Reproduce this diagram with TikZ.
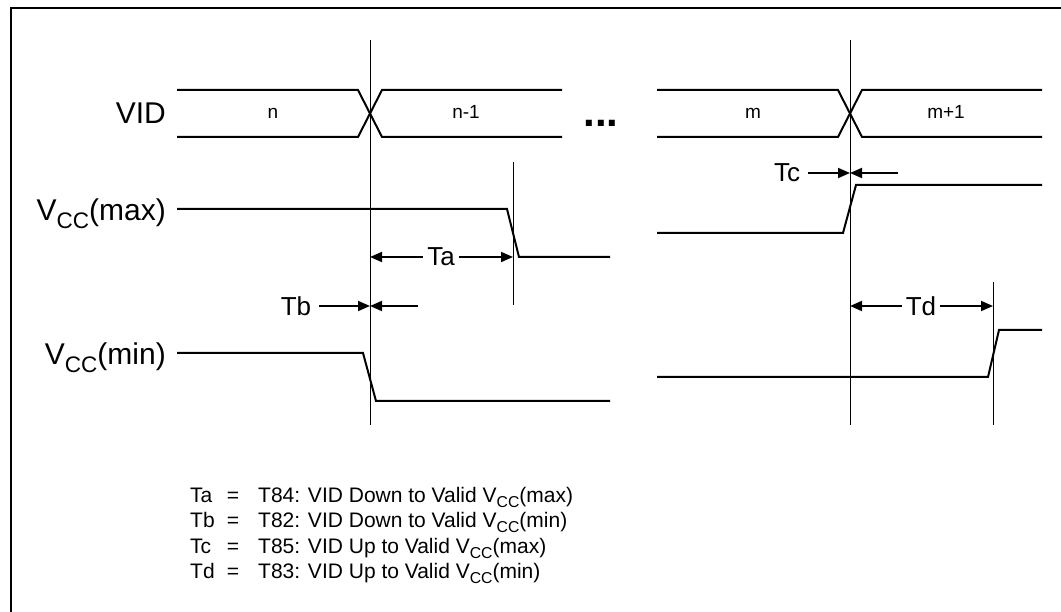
\documentclass[tikz,border=0pt]{standalone}
\usepackage{fontspec}
\setmainfont{Liberation Sans}
\usepackage{graphicx}
\usetikzlibrary{arrows.meta}
\newcommand\lowsub[1]{\raisebox{-0.25em}{\scalebox{0.75}{#1}}}
\begin{document}
\begin{tikzpicture}[x=1pt,y=-1pt,
  sig/.style={line width=2pt, line join=miter},
  guide/.style={line width=0.9pt},
  dimarrow/.style={line width=1.8pt,-{Triangle[length=12pt,width=10pt]}},
  biglbl/.style={font=\fontsize{30}{36}\selectfont, inner sep=0pt, anchor=base east},
  tlbl/.style={font=\fontsize{26}{30}\selectfont, inner sep=0pt},
  buslbl/.style={font=\fontsize{19}{22}\selectfont, inner sep=0pt, anchor=base},
  legend/.style={font=\fontsize{21}{25}\selectfont, inner sep=0pt, anchor=base west},
  legeq/.style={font=\fontsize{21}{25}\selectfont, inner sep=0pt, anchor=base},
]
\useasboundingbox (0,0) rectangle (1061,612);
% frame
\draw[line width=2pt] (1061,8.5) -- (11,8.5) -- (11,612);

% guide lines
\coordinate (g1t) at (370,40);  \coordinate (g1b) at (370,425);
\coordinate (g2t) at (850,40);  \coordinate (g2b) at (850,425);
\coordinate (g3t) at (513,162); \coordinate (g3b) at (513,305);
\coordinate (g4t) at (993,282); \coordinate (g4b) at (993,425);
\draw[guide] (g1t) -- (g1b);
\draw[guide] (g2t) -- (g2b);
\draw[guide] (g3t) -- (g3b);
\draw[guide] (g4t) -- (g4b);

% VID bus
\draw[sig] (177,90) -- (358,90) -- (382,137) -- (562,137);
\draw[sig] (177,137) -- (358,137) -- (382,90) -- (562,90);
\draw[sig] (657,90) -- (838,90) -- (862,137) -- (1042,137);
\draw[sig] (657,137) -- (838,137) -- (862,90) -- (1042,90);

% row labels
\node[biglbl] (vid) at (166,124) {VID};
\node[biglbl] (vmax) at (166,221) {V\lowsub{CC}(max)};
\node[biglbl] (vmin) at (166,365) {V\lowsub{CC}(min)};

% bus labels
\node[buslbl] (bn)  at (273,119) {n};
\node[buslbl] (bn1) at (466,119) {n-1};
\node[buslbl] (bm)  at (753,119) {m};
\node[buslbl] (bm1) at (946,119) {m+1};
\node[font=\fontsize{42}{42}\selectfont\bfseries, inner sep=0pt, anchor=base] (dots) at (601,127) {...};

% Vcc waveforms
\draw[sig] (177,209) -- (507,209) -- (519,257) -- (610,257);
\draw[sig] (177,353) -- (363,353) -- (376,401) -- (610,401);
\draw[sig] (657,233) -- (843,233) -- (856,185) -- (1042,185);
\draw[sig] (657,377) -- (988,377) -- (999,330) -- (1042,330);

% Ta
\node[tlbl, inner xsep=4pt] (ta) at (441,257) {Ta};
\draw[dimarrow] (ta.west) -- (g1t |- ta);
\draw[dimarrow] (ta.east) -- (g3t |- ta);
% Tb
\node[tlbl, inner xsep=8pt] (tb) at (296,306) {Tb};
\coordinate (tbr) at (418,306);
\draw[dimarrow] (tb.east) -- (g1t |- tb);
\draw[dimarrow] (tbr) -- (g1t |- tb);
% Tc
\node[tlbl, inner xsep=8pt] (tc) at (787,173) {Tc};
\coordinate (tcr) at (898,173);
\draw[dimarrow] (tc.east) -- (g2t |- tc);
\draw[dimarrow] (tcr) -- (g2t |- tc);
% Td
\node[tlbl, inner xsep=4pt] (td) at (921,306) {Td};
\draw[dimarrow] (td.west) -- (g2t |- td);
\draw[dimarrow] (td.east) -- (g4t |- td);

% legend
\node[legend] (la) at (190,502) {Ta};
\node[legeq]  (ea) at (233,502) {=};
\node[legend] (da) at (258,502) {T84: VID Down to Valid V\lowsub{CC}(max)};
\node[legend] (lb) at (190,527.5) {Tb};
\node[legeq]  (eb) at (233,527.5) {=};
\node[legend] (db) at (258,527.5) {T82: VID Down to Valid V\lowsub{CC}(min)};
\node[legend] (lc) at (190,553) {Tc};
\node[legeq]  (ec) at (233,553) {=};
\node[legend] (dc) at (258,553) {T85: VID Up to Valid V\lowsub{CC}(max)};
\node[legend] (ld) at (190,578.5) {Td};
\node[legeq]  (ed) at (233,578.5) {=};
\node[legend] (dd) at (258,578.5) {T83: VID Up to Valid V\lowsub{CC}(min)};
\end{tikzpicture}
\end{document}
